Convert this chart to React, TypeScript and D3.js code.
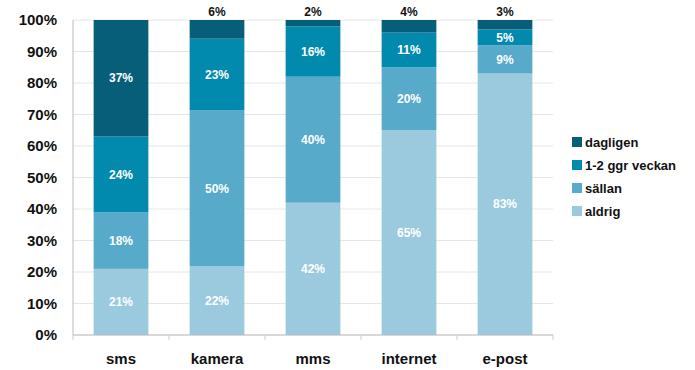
import React from "react";
import * as d3 from "d3";

const categories = ["sms", "kamera", "mms", "internet", "e-post"];
const seriesNames = ["aldrig", "sällan", "1-2 ggr veckan", "dagligen"];
const aldrig = [21, 22, 42, 65, 83];
const sallan = [18, 50, 40, 20, 9];
const veckan = [24, 23, 16, 11, 5];
const dagligen = [37, 6, 2, 4, 3];
const colors = ["#9bc9dd", "#58aaca", "#0289ae", "#065e78"];
const yTicks = [0, 10, 20, 30, 40, 50, 60, 70, 80, 90, 100];
const legendOrder = ["dagligen", "1-2 ggr veckan", "sällan", "aldrig"];

const W = 695, H = 370;
const left = 73, right = 553, top = 20, bottom = 335;
const FONT = "'Liberation Sans', Arial, Helvetica, sans-serif";

export default function App() {
  const seriesVals = [aldrig, sallan, veckan, dagligen];
  const rows = categories.map((c, i) => {
    const r: any = { cat: c };
    seriesNames.forEach((s, k) => (r[s] = seriesVals[k][i]));
    return r;
  });
  const stack = d3.stack<any>().keys(seriesNames).offset(d3.stackOffsetExpand);
  const stacked = stack(rows);
  const x = d3.scaleBand<string>().domain(categories).range([left, right]).paddingInner(0.43).paddingOuter(0.215);
  const xb = d3.scaleBand<string>().domain(categories).range([left, right]);
  const y = d3.scaleLinear().domain([0, 1]).range([bottom, top]);
  const yp = d3.scaleLinear().domain([0, 100]).range([bottom, top]);
  const color = d3.scaleOrdinal<string, string>().domain(seriesNames).range(colors);

  return (
    <svg width={W} height={H} style={{ position: "absolute", left: 0, top: 0 }} fontFamily={FONT}>
      {yTicks.map((t) => (
        <g key={t}>
          <line x1={left} x2={right} y1={yp(t)} y2={yp(t)} stroke="#e6e6e6" strokeWidth={1} />
          <text x={57} y={yp(t)} dy="0.35em" textAnchor="end" fontSize={15} fontWeight="bold" fill="#111">
            {t}%
          </text>
        </g>
      ))}
      <line x1={left} x2={left} y1={top} y2={bottom} stroke="#bbb" strokeWidth={1} />
      {stacked.map((s, k) => (
        <g key={s.key} fill={color(s.key)}>
          {s.map((d, i) => (
            <rect key={i} x={x(categories[i])} width={x.bandwidth()} y={y(d[1])} height={y(d[0]) - y(d[1])} />
          ))}
        </g>
      ))}
      {stacked.map((s, k) =>
        s.map((d, i) => {
          const v = seriesVals[k][i];
          const cx = (x(categories[i]) as number) + x.bandwidth() / 2;
          const above = k === seriesNames.length - 1 && v < 10;
          const cy = above ? top - 8 : (y(d[0]) + y(d[1])) / 2;
          return (
            <text key={s.key + i} x={cx} y={cy} dy="0.35em" textAnchor="middle" fontSize={12} fontWeight="bold" fill={above ? "#111" : "#fff"}>
              {v}%
            </text>
          );
        })
      )}
      <line x1={left} x2={right} y1={bottom} y2={bottom} stroke="#bbb" strokeWidth={1} />
      {categories.map((c, i) => (
        <line key={c} x1={xb(c)} x2={xb(c)} y1={bottom} y2={bottom + 5} stroke="#ccc" />
      ))}
      <line x1={right} x2={right} y1={bottom} y2={bottom + 5} stroke="#ccc" />
      {categories.map((c) => (
        <text key={c} x={(x(c) as number) + x.bandwidth() / 2} y={364} textAnchor="middle" fontSize={15} fontWeight="bold" fill="#111">
          {c}
        </text>
      ))}
      {legendOrder.map((s, i) => (
        <g key={s} transform={`translate(572, ${142 + i * 23})`}>
          <rect x={0} y={-5} width={10} height={10} fill={color(s)} />
          <text x={13} y={0} dy="0.35em" fontSize={13} fontWeight="bold" fill="#111">
            {s}
          </text>
        </g>
      ))}
    </svg>
  );
}
